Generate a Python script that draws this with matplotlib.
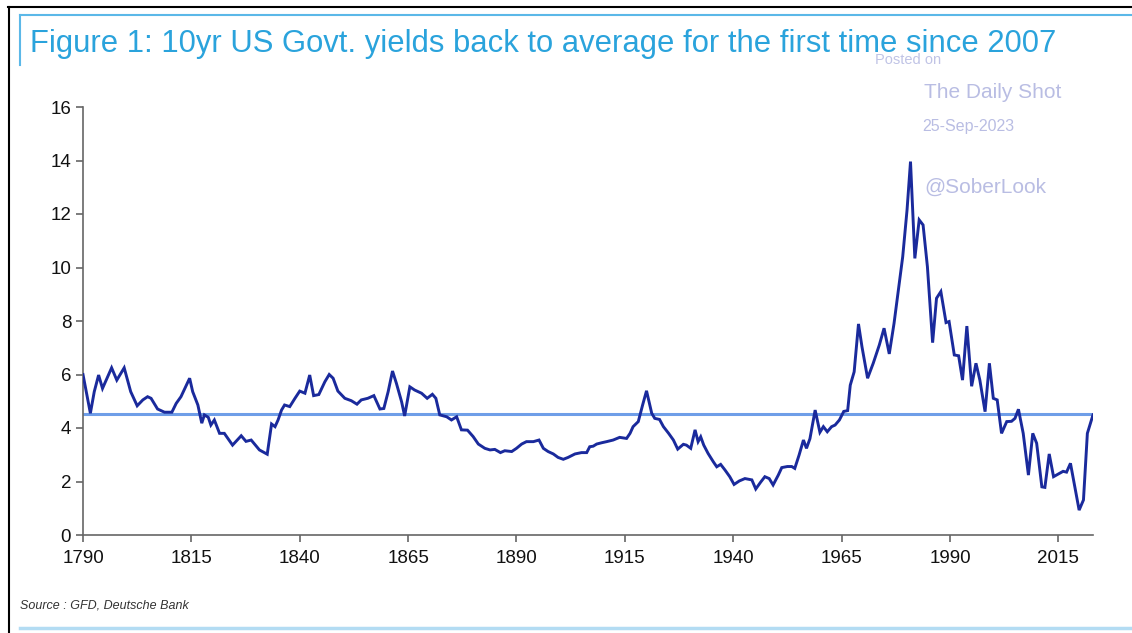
import matplotlib
matplotlib.use('Agg')
import matplotlib.pyplot as plt
from matplotlib.lines import Line2D

plt.rcParams['font.family'] = ['Liberation Sans', 'DejaVu Sans']

# 10yr US govt yield
years = [1790, 1791.7, 1792.6, 1793.6, 1794.5, 1795.7, 1796.6, 1797.8, 1799.5, 1801,
         1802.5, 1803.8, 1804.9, 1805.7, 1807.2, 1808.8, 1810.5, 1811.5, 1812.6, 1813.5,
         1814.6, 1815.3, 1816.5, 1817.4, 1818, 1818.9, 1819.5, 1820.3, 1821.5, 1822.6,
         1824.5, 1826.5, 1827.6, 1828.8, 1830.7, 1832.5, 1833.5, 1834.3, 1835, 1835.8,
         1836.5, 1837.7, 1838.9, 1840, 1841.2, 1842.3, 1843.2, 1844.4, 1845.8, 1846.8,
         1847.7, 1848.8, 1850.4, 1851.9, 1853.2, 1854.2, 1855.7, 1857.1, 1858.5, 1859.4,
         1860.4, 1861.4, 1862.3, 1863.5, 1864.2, 1865.4, 1866.5, 1868.1, 1869.4, 1870.6,
         1871.4, 1872.3, 1873.9, 1875, 1876.2, 1877.3, 1878.7, 1880, 1881.2, 1882.7,
         1883.9, 1885, 1886.3, 1887.3, 1888.9, 1890, 1891.2, 1892.3, 1893.9, 1895.2,
         1896.2, 1897.3, 1898.5, 1899.6, 1900.8, 1901.9, 1903.5, 1905, 1906.2, 1906.9,
         1907.7, 1908.5, 1909.7, 1910.8, 1912.3, 1913.8, 1915.4, 1916.2, 1916.9, 1918.1,
         1919.1, 1920, 1921.2, 1921.9, 1923, 1923.9, 1925.1, 1926.2, 1927.2, 1928.5,
         1929.2, 1930.2, 1931.2, 1931.9, 1932.5, 1933.2, 1934.2, 1935.4, 1936.2, 1937.1,
         1938.1, 1939.2, 1940.2, 1941.4, 1942.7, 1944.3, 1945.2, 1946.3, 1947.3, 1948.3,
         1949.2, 1950.4, 1951.2, 1952.5, 1953.5, 1954.2, 1955.2, 1956.2, 1956.9, 1957.7,
         1958.9, 1960, 1960.8, 1961.7, 1962.7, 1963.5, 1964.5, 1965.5, 1966.4, 1967,
         1967.9, 1968.9, 1969.7, 1971, 1972.3, 1973.7, 1974.8, 1976, 1977.1, 1978.1,
         1979.1, 1980.1, 1980.9, 1981.9, 1982.9, 1983.8, 1984.8, 1986, 1986.9, 1987.9,
         1989.1, 1989.8, 1991, 1992, 1992.9, 1993.9, 1995, 1996, 1996.9, 1998.1,
         1999.1, 2000, 2000.9, 2001.9, 2003.1, 2004.2, 2005, 2005.8, 2006.9, 2008.1,
         2009.1, 2010, 2011.2, 2011.9, 2012.9, 2013.9, 2015.2, 2016.1, 2016.9, 2017.8,
         2018.8, 2019.8, 2020.8, 2021.7, 2023]
yields = [6.0, 4.55, 5.36, 5.98, 5.48, 5.92, 6.25, 5.79, 6.25, 5.36,
          4.83, 5.05, 5.17, 5.11, 4.71, 4.59, 4.59, 4.92, 5.17, 5.48,
          5.86, 5.36, 4.86, 4.18, 4.49, 4.4, 4.11, 4.3, 3.8, 3.8,
          3.36, 3.71, 3.5, 3.55, 3.18, 3.02, 4.15, 4.05, 4.3, 4.67,
          4.86, 4.8, 5.11, 5.38, 5.3, 5.98, 5.21, 5.25, 5.73, 6.0,
          5.86, 5.38, 5.11, 5.02, 4.89, 5.05, 5.11, 5.21, 4.71, 4.73,
          5.36, 6.13, 5.67, 4.98, 4.45, 5.54, 5.42, 5.3, 5.11, 5.26,
          5.11, 4.49, 4.42, 4.3, 4.42, 3.93, 3.92, 3.68, 3.4, 3.24,
          3.18, 3.2, 3.08, 3.15, 3.12, 3.24, 3.4, 3.49, 3.49, 3.55,
          3.24, 3.12, 3.03, 2.9, 2.83, 2.9, 3.03, 3.08, 3.08, 3.3,
          3.32, 3.4, 3.45, 3.49, 3.55, 3.65, 3.61, 3.8, 4.05, 4.24,
          4.86, 5.39, 4.55, 4.36, 4.32, 4.05, 3.8, 3.55, 3.21, 3.39,
          3.36, 3.24, 3.93, 3.49, 3.67, 3.36, 3.05, 2.74, 2.55, 2.64,
          2.43, 2.18, 1.89, 2.02, 2.11, 2.06, 1.72, 1.97, 2.18, 2.11,
          1.87, 2.24, 2.52, 2.56, 2.56, 2.49, 2.99, 3.55, 3.24, 3.6,
          4.67, 3.84, 4.05, 3.86, 4.05, 4.11, 4.3, 4.62, 4.65, 5.6,
          6.1, 7.89, 7.04, 5.86, 6.42, 7.1, 7.73, 6.77, 7.91, 9.16,
          10.4, 12.15, 13.96, 10.34, 11.78, 11.59, 10.03, 7.19, 8.85, 9.1,
          7.94, 7.98, 6.73, 6.7, 5.79, 7.81, 5.56, 6.42, 5.79, 4.61,
          6.42, 5.11, 5.05, 3.8, 4.24, 4.25, 4.36, 4.7, 3.8, 2.24,
          3.8, 3.43, 1.8, 1.78, 3.03, 2.18, 2.3, 2.38, 2.35, 2.68,
          1.8, 0.93, 1.31, 3.8, 4.49]
average = 4.52

xticks = [1790, 1815, 1840, 1865, 1890, 1915, 1940, 1965, 1990, 2015]
yticks = [0, 2, 4, 6, 8, 10, 12, 14, 16]

W, H = 1132, 633
fig = plt.figure(figsize=(W / 100, H / 100), dpi=100)
ax = fig.add_axes([83 / W, 1 - 535 / H, (1093 - 83) / W, (535 - 107) / H])

ax.plot([years[0], years[-1]], [average, average], color='#6f9ee8', lw=2.2, zorder=2)
ax.plot(years, yields, color='#1a2a9c', lw=2.1, zorder=3, solid_joinstyle='miter')

ax.set_xlim(1790, 2023)
ax.set_ylim(0, 16)
ax.set_xticks(xticks)
ax.set_yticks(yticks)
ax.tick_params(axis='both', labelsize=13.5, colors='#666666', labelcolor='#111111',
               length=5, width=1.2, direction='out')
ax.tick_params(axis='x', pad=6)
for s in ['top', 'right']:
    ax.spines[s].set_visible(False)
for s in ['left', 'bottom']:
    ax.spines[s].set_color('#666666')
    ax.spines[s].set_linewidth(1.2)

# title and watermark (the watermark sits over the title end, as in the source)
fig.text(30 / W, 1 - 44 / H, 'Figure 1: 10yr US Govt. yields back to average for the first time since 2007',
         fontsize=22.3, color='#2aa3dc', va='center', ha='left')
wm = '#b9bde3'
fig.text(875 / W, 1 - 60 / H, 'Posted on', fontsize=10.5, color=wm, va='center', ha='left', alpha=0.9)
fig.text(924 / W, 1 - 92 / H, 'The Daily Shot', fontsize=15, color=wm, va='center', ha='left')
fig.text(922 / W, 1 - 127 / H, '25-Sep-2023', fontsize=11.5, color=wm, va='center', ha='left')
fig.text(924 / W, 1 - 187 / H, '@SoberLook', fontsize=15, color=wm, va='center', ha='left')

fig.text(20 / W, 1 - 605 / H, 'Source : GFD, Deutsche Bank', fontsize=9, style='italic',
         color='#333333', va='center', ha='left')

# frame
fig.add_artist(Line2D([8 / W, 1], [1 - 7 / H, 1 - 7 / H], color='black', lw=1.5))
fig.add_artist(Line2D([9 / W, 9 / W], [1 - 7 / H, 0], color='black', lw=1.5))
fig.add_artist(Line2D([20 / W, 1], [1 - 15 / H, 1 - 15 / H], color='#5bb8e8', lw=1.5))
fig.add_artist(Line2D([20 / W, 20 / W], [1 - 15 / H, 1 - 65 / H], color='#5bb8e8', lw=1.5))
fig.add_artist(Line2D([20 / W, 1], [1 - 628 / H, 1 - 628 / H], color='#b3dcf3', lw=2.5))

fig.savefig('out.png', dpi=100)
